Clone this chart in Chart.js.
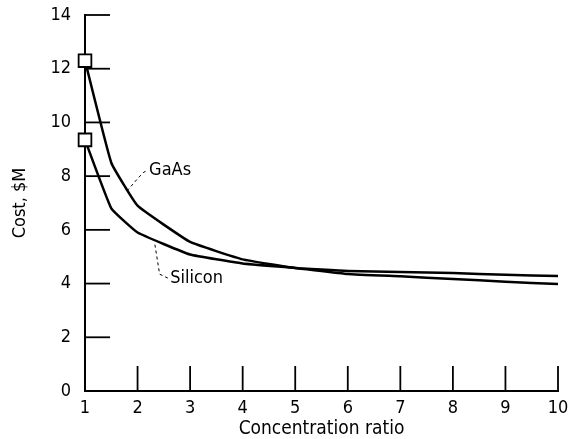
<!DOCTYPE html>
<html>
<head>
<meta charset="utf-8">
<script src="https://cdn.jsdelivr.net/npm/chart.js@4/dist/chart.umd.min.js"></script>
<style>
  html, body { margin: 0; padding: 0; background: #fff; }
  #wrap { width: 570px; height: 439px; }
</style>
</head>
<body>
<div id="wrap"><canvas id="myChart"></canvas></div>
<script>
// datos
var ratios = [1, 1.5, 2, 3, 4, 5, 6, 7, 8, 9, 10];
var gaasCost = [12.3, 8.5, 6.9, 5.55, 4.9, 4.58, 4.47, 4.43, 4.39, 4.33, 4.28];
var siliconCost = [9.35, 6.8, 5.9, 5.08, 4.75, 4.58, 4.36, 4.27, 4.17, 4.07, 3.98];
var yTicks = [0, 2, 4, 6, 8, 10, 12, 14];
var xTicks = [1, 2, 3, 4, 5, 6, 7, 8, 9, 10];

var FONT = "'DejaVu Sans Condensed', 'DejaVu Sans', sans-serif";

function puntos(ys) {
    return ratios.map(function (x, i) { return { x: x, y: ys[i] }; });
}
function radios() {
    return ratios.map(function (x, i) { return i === 0 ? 9 : 0; });
}

// marcas de escala hacia adentro y etiquetas de las curvas
var marcas = {
    id: 'marcas',
    afterDatasetsDraw: function (chart) {
        var ctx = chart.ctx, xs = chart.scales.x, ys = chart.scales.y;
        ctx.save();
        ctx.strokeStyle = '#000';
        ctx.lineWidth = 1.8;
        var x0 = xs.getPixelForValue(1), y0 = ys.getPixelForValue(0);
        yTicks.forEach(function (v) {
            if (v === 0) return;
            var y = ys.getPixelForValue(v);
            ctx.beginPath(); ctx.moveTo(x0, y); ctx.lineTo(x0 + 25, y); ctx.stroke();
        });
        xTicks.forEach(function (v) {
            if (v === 1) return;
            var x = xs.getPixelForValue(v);
            ctx.beginPath(); ctx.moveTo(x, y0); ctx.lineTo(x, y0 - 25); ctx.stroke();
        });

        // lineas guia punteadas
        ctx.lineWidth = 1;
        ctx.setLineDash([3, 3]);
        var guia = function (pts) {
            ctx.beginPath();
            pts.forEach(function (p, i) {
                var px = xs.getPixelForValue(p[0]), py = ys.getPixelForValue(p[1]);
                if (i === 0) ctx.moveTo(px, py); else ctx.lineTo(px, py);
            });
            ctx.stroke();
        };
        guia([[1.8, 7.45], [2.02, 7.95], [2.12, 8.15], [2.18, 8.2]]);
        guia([[2.33, 5.45], [2.42, 4.35], [2.58, 4.2]]);
        ctx.setLineDash([]);

        ctx.fillStyle = '#000';
        ctx.font = '18px ' + FONT;
        ctx.textBaseline = 'middle';
        ctx.textAlign = 'left';
        ctx.fillText('GaAs', xs.getPixelForValue(2.22), ys.getPixelForValue(8.2));
        ctx.fillText('Silicon', xs.getPixelForValue(2.62), ys.getPixelForValue(4.18));
        ctx.restore();
    }
};

var ctx = document.getElementById('myChart');
var myChart = new Chart(ctx, {
    type: 'line',
    data: {
        datasets: [
            {
                label: 'GaAs',
                data: puntos(gaasCost),
                borderColor: '#000',
                borderWidth: 2.5,
                pointStyle: 'rect',
                pointRadius: radios(),
                pointBackgroundColor: '#fff',
                pointBorderColor: '#000',
                pointBorderWidth: 1.8,
                tension: 0.1
            },
            {
                label: 'Silicon',
                data: puntos(siliconCost),
                borderColor: '#000',
                borderWidth: 2.5,
                pointStyle: 'rect',
                pointRadius: radios(),
                pointBackgroundColor: '#fff',
                pointBorderColor: '#000',
                pointBorderWidth: 1.8,
                tension: 0.1
            }
        ]
    },
    options: {
        responsive: true,
        maintainAspectRatio: false,
        animation: false,
        clip: false,
        layout: { padding: { top: 15, right: 12, left: 0, bottom: 0 } },
        plugins: {
            legend: { display: false },
            tooltip: { enabled: false }
        },
        scales: {
            x: {
                type: 'linear',
                min: 1,
                max: 10,
                afterBuildTicks: function (scale) {
                    scale.ticks = xTicks.map(function (v) { return { value: v }; });
                },
                afterFit: function (scale) {
                    scale.height = 48;
                    scale.paddingLeft = 0;
                    scale.paddingRight = 0;
                },
                grid: { drawOnChartArea: false, drawTicks: false },
                border: { display: true, color: '#000', width: 2 },
                ticks: { color: '#000', padding: 7, font: { family: FONT, size: 18 } },
                title: {
                    display: true,
                    text: 'Concentration ratio',
                    color: '#000',
                    padding: { top: 0, bottom: -1 },
                    font: { family: FONT, size: 19 }
                }
            },
            y: {
                min: 0,
                max: 14,
                afterBuildTicks: function (scale) {
                    scale.ticks = yTicks.map(function (v) { return { value: v }; });
                },
                afterFit: function (scale) {
                    scale.width = 85;
                    scale.paddingTop = 0;
                    scale.paddingBottom = 0;
                },
                grid: { drawOnChartArea: false, drawTicks: false },
                border: { display: true, color: '#000', width: 2 },
                ticks: { color: '#000', padding: 14, font: { family: FONT, size: 18 } },
                title: {
                    display: true,
                    text: 'Cost, $M',
                    color: '#000',
                    padding: { top: 10, bottom: 0 },
                    font: { family: FONT, size: 18 }
                }
            }
        }
    },
    plugins: [marcas]
});
</script>
</body>
</html>
